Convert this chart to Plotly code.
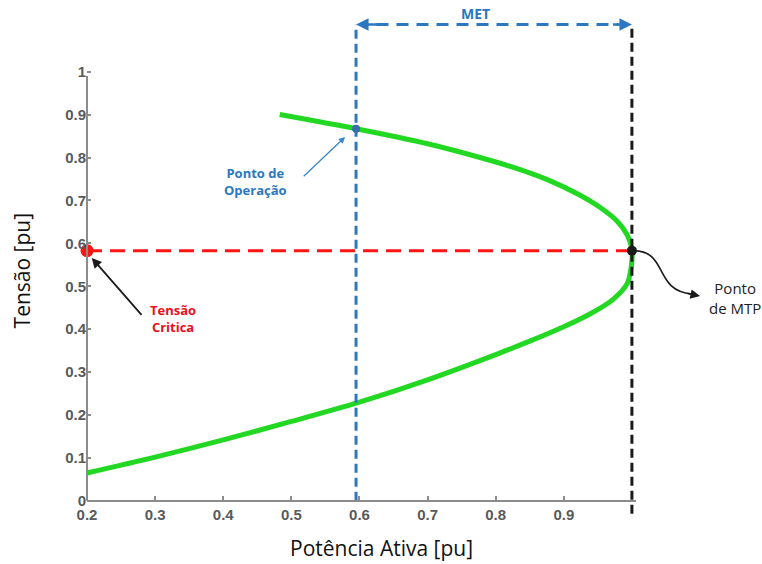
import plotly.graph_objects as go

# ---- data ----
P_UPPER = [0.483, 0.595, 0.700, 0.777, 0.826, 0.875, 0.924, 0.953, 0.978, 0.993, 1.000]
V_UPPER = [0.900, 0.867, 0.832, 0.800, 0.777, 0.749, 0.712, 0.684, 0.652, 0.620, 0.585]
P_LOWER = [0.999, 0.993, 0.972, 0.939, 0.899, 0.850, 0.802, 0.70, 0.60, 0.50, 0.40, 0.30, 0.20]
V_LOWER = [0.545, 0.506, 0.469, 0.436, 0.405, 0.372, 0.342, 0.282, 0.230, 0.185, 0.142, 0.102, 0.065]

P_OPER = 0.595      # operating point (active power)
V_OPER = 0.867
P_MAX = 1.0         # maximum transfer point
V_CRIT = 0.583      # critical voltage
P_MIN = 0.2
MET_LEVEL = 1.11

X_TICKS = [0.2, 0.3, 0.4, 0.5, 0.6, 0.7, 0.8, 0.9]
X_TICK_LABELS = ["0.2", "0.3", "0.4", "0.5", "0.6", "0.7", "0.8", "0.9"]
Y_TICKS = [0, 0.1, 0.2, 0.3, 0.4, 0.5, 0.6, 0.7, 0.8, 0.9, 1.0]
Y_TICK_LABELS = ["0", "0.1", "0.2", "0.3", "0.4", "0.5", "0.6", "0.7", "0.8", "0.9", "1"]

X_RANGE = [0.2, 1.006]
Y_RANGE = [-0.04, 1.16]

GREEN = "#22d822"
RED = "#ff1414"
BLUE = "#2b78c0"
BLACK = "#1a1a1a"


def xp(x):
    return (x - X_RANGE[0]) / (X_RANGE[1] - X_RANGE[0])


def yp(y):
    return (y - Y_RANGE[0]) / (Y_RANGE[1] - Y_RANGE[0])


fig = go.Figure()

# PV (nose) curve
fig.add_trace(go.Scatter(x=P_UPPER + P_LOWER, y=V_UPPER + V_LOWER, mode="lines",
                         line=dict(color=GREEN, width=5, shape="spline", smoothing=0.8),
                         hoverinfo="skip"))
# critical voltage line
fig.add_trace(go.Scatter(x=[P_MIN, P_MAX], y=[V_CRIT, V_CRIT], mode="lines",
                         line=dict(color=RED, width=3, dash="15px,8px"), hoverinfo="skip"))
# operating point vertical
fig.add_trace(go.Scatter(x=[P_OPER, P_OPER], y=[0, MET_LEVEL], mode="lines",
                         line=dict(color=BLUE, width=3, dash="9px,5px"), hoverinfo="skip"))
# maximum point vertical
fig.add_trace(go.Scatter(x=[P_MAX, P_MAX], y=[-0.03, MET_LEVEL], mode="lines",
                         line=dict(color=BLACK, width=3, dash="9px,5px"), hoverinfo="skip"))
# MET horizontal
fig.add_trace(go.Scatter(x=[P_OPER + 0.03, P_MAX - 0.02], y=[MET_LEVEL, MET_LEVEL], mode="lines",
                         line=dict(color=BLUE, width=3, dash="12px,8px"), hoverinfo="skip"))
# points
fig.add_trace(go.Scatter(x=[P_MIN], y=[V_CRIT], mode="markers", cliponaxis=False,
                         marker=dict(color=RED, size=13), hoverinfo="skip"))
fig.add_trace(go.Scatter(x=[P_MAX], y=[V_CRIT], mode="markers", cliponaxis=False,
                         marker=dict(color=BLACK, size=10), hoverinfo="skip"))
fig.add_trace(go.Scatter(x=[P_OPER], y=[V_OPER], mode="markers", cliponaxis=False,
                         marker=dict(color="#3a6db0", size=8), hoverinfo="skip"))

C = dict(xanchor="center", yanchor="middle")
annotations = [
    # MET arrowheads
    dict(x=P_OPER, y=MET_LEVEL, ax=P_OPER + 0.035, ay=MET_LEVEL, xref="x", yref="y",
         axref="x", ayref="y", text="", showarrow=True, arrowhead=2, arrowsize=1,
         arrowwidth=2.5, arrowcolor=BLUE),
    dict(x=P_MAX, y=MET_LEVEL, ax=P_MAX - 0.03, ay=MET_LEVEL, xref="x", yref="y",
         axref="x", ayref="y", text="", showarrow=True, arrowhead=2, arrowsize=1,
         arrowwidth=2.5, arrowcolor=BLUE),
    dict(x=0.77, y=1.135, xref="x", yref="y", text="MET", showarrow=False,
         font=dict(family="Open Sans", size=14, color=BLUE, weight="bold"), **C),
    # Ponto de Operação
    dict(x=0.447, y=0.745, xref="x", yref="y", text="Ponto de<br>Operação", showarrow=False,
         font=dict(family="Open Sans", size=13, color=BLUE, weight="bold"), **C),
    dict(x=0.579, y=0.848, ax=0.516, ay=0.753, xref="x", yref="y", axref="x", ayref="y",
         text="", showarrow=True, arrowhead=2, arrowsize=1, arrowwidth=1.3, arrowcolor="#3a86c8"),
    # Tensão Crítica
    dict(x=0.326, y=0.424, xref="x", yref="y", text="Tensão<br>Critica", showarrow=False,
         font=dict(family="Open Sans", size=13, color="#e81020", weight="bold"), **C),
    dict(x=0.207, y=0.566, ax=0.282, ay=0.43, xref="x", yref="y", axref="x", ayref="y",
         text="", showarrow=True, arrowhead=2, arrowsize=1.1, arrowwidth=1.8, arrowcolor=BLACK),
    # Ponto de MTP
    dict(x=xp(1.152), y=yp(0.473), xref="paper", yref="paper", text="Ponto<br>de MTP",
         showarrow=False, font=dict(family="Open Sans", size=15, color="#222222"), **C),
    dict(x=xp(1.1), y=yp(0.477), ax=-14, ay=-3, xref="paper", yref="paper",
         axref="pixel", ayref="pixel", text="", showarrow=True, arrowhead=2, arrowsize=1.2,
         arrowwidth=1.6, arrowcolor=BLACK),
    # axis titles
    dict(x=xp(0.633), y=yp(-0.11), xref="paper", yref="paper", text="Potência Ativa [pu]",
         showarrow=False, font=dict(family="Open Sans", size=21, color="#111111"), **C),
    dict(x=xp(0.104), y=yp(0.536), xref="paper", yref="paper", text="Tensão [pu]",
         textangle=-90, showarrow=False,
         font=dict(family="Open Sans", size=21, color="#111111"), **C),
]

# curved arrow towards "Ponto de MTP"
x0, y0 = xp(P_MAX), yp(V_CRIT)
c1x, c1y = xp(1.055), yp(0.585)
c2x, c2y = xp(1.03), yp(0.49)
ex, ey = xp(1.088), yp(0.482)
shapes = [
    dict(type="path", xref="paper", yref="paper",
         path=f"M {x0},{y0} C {c1x},{c1y} {c2x},{c2y} {ex},{ey}",
         line=dict(color=BLACK, width=1.6)),
    # left axis line (only from 0 to 1)
    dict(type="line", xref="paper", yref="paper", x0=0, x1=0, y0=yp(0), y1=yp(0.99),
         line=dict(color="#8c8c8c", width=2)),
]

fig.update_layout(
    width=762, height=564,
    margin=dict(l=87, r=126, t=3, b=46, autoexpand=False),
    paper_bgcolor="white", plot_bgcolor="white",
    showlegend=False,
    annotations=annotations,
    shapes=shapes,
    xaxis=dict(range=X_RANGE, tickvals=X_TICKS, ticktext=X_TICK_LABELS, automargin=False,
               showgrid=False, zeroline=False, showline=True, linecolor="#8c8c8c", linewidth=2,
               ticks="inside", ticklen=4, tickcolor="#8c8c8c", tickwidth=1.5,
               anchor="free", position=yp(0),
               tickfont=dict(family="Liberation Sans", size=15, color="#5a5a5a", weight="bold")),
    yaxis=dict(range=Y_RANGE, tickvals=Y_TICKS, ticktext=Y_TICK_LABELS, automargin=False,
               showgrid=False, zeroline=False, showline=False,
               ticks="inside", ticklen=4, tickcolor="#8c8c8c", tickwidth=1.5,
               tickfont=dict(family="Liberation Sans", size=15, color="#5a5a5a", weight="bold")),
)

fig.write_html("out.html", config={"displayModeBar": False},
               post_script="document.body.style.margin='0';document.body.style.overflow='hidden';")
